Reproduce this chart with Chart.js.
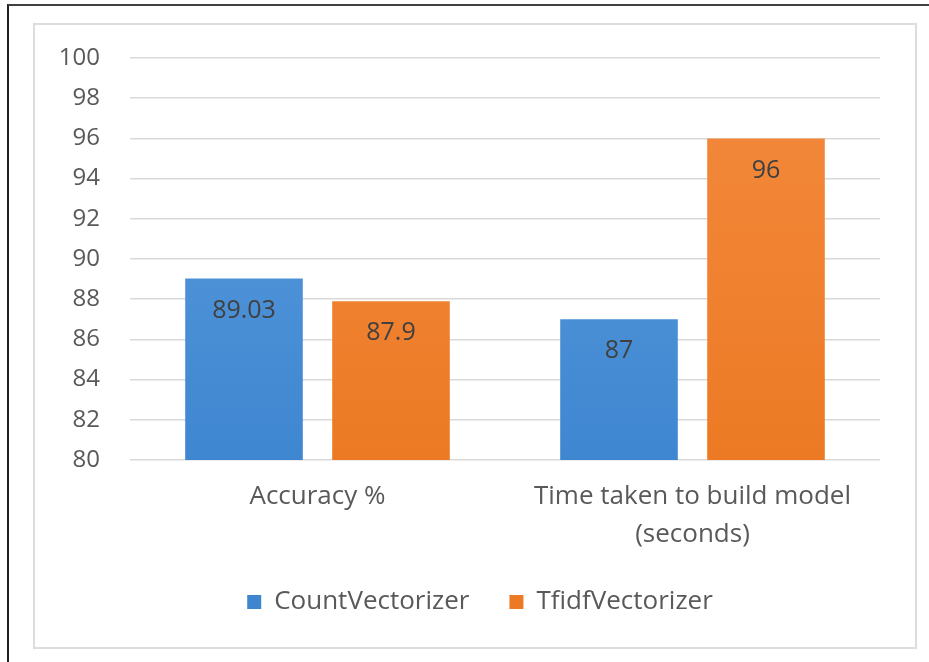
<!DOCTYPE html>
<html>
<head>
<meta charset="utf-8">
<script src="https://cdn.jsdelivr.net/npm/chart.js@4"></script>
<style>
  html, body { margin: 0; padding: 0; background: #fff; }
  #wrap { position: relative; width: 929px; height: 662px; overflow: hidden; }
  #outer { position: absolute; left: 7px; top: 4px; width: 940px; height: 680px;
           border-top: 2px solid #404040; border-left: 2px solid #202020; }
  #inner { position: absolute; left: 33px; top: 23px; width: 880px; height: 622px;
           border: 2px solid #dcdcdc; }
  #chart { position: absolute; left: 0; top: 0; }
</style>
</head>
<body>
<div id="wrap">
  <div id="outer"></div>
  <div id="inner"></div>
  <canvas id="chart" width="929" height="662"></canvas>
</div>
<script>
const categories = ["Accuracy %", ["Time taken to build model", "(seconds)"]];
const seriesNames = ["CountVectorizer", "TfidfVectorizer"];
const countValues = [89.03, 87];
const tfidfValues = [87.9, 96];
const valueLabels = [["89.03", "87"], ["87.9", "96"]];
const yMin = 80, yMax = 100, yStep = 2;

const FONT = "'Open Sans', 'Liberation Sans', sans-serif";

function grad(ctx, top, bottom) {
    const area = ctx.chart.chartArea;
    if (!area) return bottom;
    const g = ctx.chart.ctx.createLinearGradient(0, area.top, 0, area.bottom);
    g.addColorStop(0, top);
    g.addColorStop(1, bottom);
    return g;
}

const barLabels = {
    id: "barLabels",
    afterDatasetsDraw(chart) {
        const c = chart.ctx;
        c.save();
        c.font = "25px " + FONT;
        c.fillStyle = "#404040";
        c.textAlign = "center";
        c.textBaseline = "middle";
        chart.data.datasets.forEach((ds, i) => {
            chart.getDatasetMeta(i).data.forEach((bar, j) => {
                c.fillText(valueLabels[i][j], bar.x, bar.y + 32);
            });
        });
        c.restore();
    }
};

new Chart(document.getElementById("chart"), {
    type: "bar",
    data: {
        labels: categories,
        datasets: [{
            label: seriesNames[0],
            data: countValues,
            backgroundColor: ctx => grad(ctx, "#5c9fdd", "#3f86d1")
        }, {
            label: seriesNames[1],
            data: tfidfValues,
            backgroundColor: ctx => grad(ctx, "#f48a3e", "#ec7a24")
        }]
    },
    options: {
        responsive: false,
        animation: false,
        devicePixelRatio: 1,
        categoryPercentage: 0.784,
        barPercentage: 0.8,
        layout: { padding: { left: 40, right: 9, top: 58, bottom: 37 } },
        scales: {
            x: {
                afterFit: s => { s.height = 89; },
                grid: { display: false },
                border: { display: false },
                ticks: { color: "#595959", font: { family: FONT, size: 26, lineHeight: 1.46 }, padding: 10, maxRotation: 0 }
            },
            y: {
                min: yMin,
                max: yMax,
                afterFit: s => { s.width = 90; },
                grid: { color: "#d9d9d9", lineWidth: 1.5, drawTicks: false },
                border: { display: false },
                ticks: { stepSize: yStep, color: "#595959", font: { family: FONT, size: 24 }, padding: 30 }
            },
            // empty right-hand spacer so the legend centres like the original
            spacer: {
                position: "right",
                min: yMin,
                max: yMax,
                afterFit: s => { s.width = 40; },
                grid: { display: false },
                border: { display: false },
                ticks: { display: false }
            }
        },
        plugins: {
            legend: {
                position: "bottom",
                labels: { boxWidth: 14, boxHeight: 14, padding: 40, color: "#595959", font: { family: FONT, size: 26 } }
            },
            tooltip: { enabled: false }
        }
    },
    plugins: [barLabels]
});
</script>
</body>
</html>
